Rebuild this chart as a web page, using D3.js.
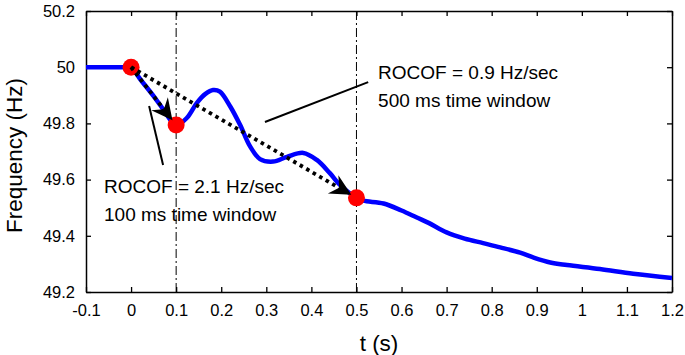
<!DOCTYPE html>
<html>
<head>
<meta charset="utf-8">
<script src="https://cdn.jsdelivr.net/npm/d3@7"></script>
<style>
  body { margin: 0; background: #fff; }
  svg text { font-family: "Liberation Sans", Arial, Helvetica, sans-serif; fill: #000; }
</style>
</head>
<body>
<div id="chart"></div>
<script>
// time (s) and frequency (Hz)
const timeValues = [-0.1, -0.05, -0.01, 0, 0.02, 0.05, 0.071, 0.1, 0.124, 0.146, 0.165, 0.182, 0.197, 0.22, 0.242, 0.264,
    0.286, 0.315, 0.346, 0.382, 0.412, 0.441, 0.464, 0.5, 0.515, 0.56, 0.6, 0.634, 0.66, 0.7, 0.74, 0.781,
    0.819, 0.863, 0.892, 0.93, 0.967, 1.04, 1.114, 1.2];
const freqValues = [50.0, 50.0, 50.0, 50.0, 49.958, 49.897, 49.851, 49.794, 49.82, 49.873, 49.905, 49.919, 49.913, 49.86,
    49.794, 49.718, 49.673, 49.664, 49.681, 49.695, 49.67, 49.623, 49.58, 49.535, 49.525, 49.515, 49.49,
    49.465, 49.446, 49.412, 49.39, 49.374, 49.359, 49.34, 49.323, 49.305, 49.296, 49.282, 49.265, 49.25];

// red markers
const markerTimes = [0, 0.1, 0.5];
const markerFreqs = [50.0, 49.794, 49.535];

// dotted arrows: [t0, f0, t1, f1]
const arrows = [
    [0, 50.0, 0.1, 49.794],
    [0, 50.0, 0.5, 49.535]
];

// vertical dash-dot lines
const windowEdges = [0.1, 0.5];

// solid pointer lines to the labels
const pointerLines = [
    [0.040, 49.862, 0.071, 49.652],
    [0.297, 49.805, 0.526, 49.947]
];

// annotation text: [t, f, text]
const labels = [
    [0.548, 49.958, "ROCOF = 0.9 Hz/sec"],
    [0.548, 49.858, "500 ms time window"],
    [-0.06, 49.552, "ROCOF = 2.1 Hz/sec"],
    [-0.06, 49.452, "100 ms time window"]
];

const xTicks = [-0.1, 0, 0.1, 0.2, 0.3, 0.4, 0.5, 0.6, 0.7, 0.8, 0.9, 1, 1.1, 1.2];
const yTicks = [49.2, 49.4, 49.6, 49.8, 50, 50.2];

const W = 685, H = 355;
const margin = {top: 11, right: 13, bottom: 63, left: 86};
const width = W - margin.left - margin.right;
const height = H - margin.top - margin.bottom;

const svg = d3.select("#chart").append("svg")
    .attr("width", W)
    .attr("height", H);

const g = svg.append("g")
    .attr("transform", `translate(${margin.left},${margin.top})`);

const x = d3.scaleLinear().domain([-0.1, 1.2]).range([0, width]);
const y = d3.scaleLinear().domain([49.2, 50.2]).range([height, 0]);

// axes with inward ticks, plain hyphen for negatives
const fmt = d => String(+d.toFixed(1));
const xAxis = g.append("g")
    .attr("transform", `translate(0,${height})`)
    .call(d3.axisBottom(x).tickValues(xTicks).tickSizeInner(-5).tickSizeOuter(0).tickPadding(12).tickFormat(fmt));
const yAxis = g.append("g")
    .call(d3.axisLeft(y).tickValues(yTicks).tickSizeInner(-5).tickSizeOuter(0).tickPadding(11).tickFormat(fmt));
const xTop = g.append("g")
    .call(d3.axisTop(x).tickValues(xTicks).tickSizeInner(-5).tickSizeOuter(0).tickFormat(""));
const yRight = g.append("g")
    .attr("transform", `translate(${width},0)`)
    .call(d3.axisRight(y).tickValues(yTicks).tickSizeInner(-5).tickSizeOuter(0).tickFormat(""));

[xAxis, yAxis, xTop, yRight].forEach(a => {
    a.select(".domain").attr("stroke", "#000").attr("stroke-width", 1.5);
    a.selectAll(".tick line").attr("stroke", "#000").attr("stroke-width", 1.3);
    a.selectAll(".tick text").attr("font-size", 16.5).attr("font-family", null);
});

// axis titles
svg.append("text")
    .attr("x", margin.left + width / 2)
    .attr("y", 351)
    .attr("text-anchor", "middle")
    .attr("font-size", 22.5)
    .text("t (s)");

svg.append("text")
    .attr("transform", `translate(22,${margin.top + height / 2 + 4}) rotate(-90)`)
    .attr("text-anchor", "middle")
    .attr("font-size", 22.5)
    .text("Frequency (Hz)");

// dash-dot window edges
g.selectAll(".edge").data(windowEdges).enter().append("line")
    .attr("class", "edge")
    .attr("x1", d => x(d)).attr("x2", d => x(d))
    .attr("y1", 0).attr("y2", height)
    .attr("stroke", "#000")
    .attr("stroke-width", 1)
    .attr("stroke-dasharray", "9,3,2,3");

// frequency curve
const line = d3.line()
    .x(d => x(d[0]))
    .y(d => y(d[1]))
    .curve(d3.curveCatmullRom.alpha(0.5));

g.append("path")
    .datum(timeValues.map((t, i) => [t, freqValues[i]]))
    .attr("d", line)
    .attr("fill", "none")
    .attr("stroke", "#0000ff")
    .attr("stroke-width", 4.5)
    .attr("stroke-linejoin", "round");

// red markers
g.selectAll(".dot").data(markerTimes).enter().append("circle")
    .attr("class", "dot")
    .attr("cx", d => x(d))
    .attr("cy", (d, i) => y(markerFreqs[i]))
    .attr("r", 8.5)
    .attr("fill", "#ff0000");

// dotted arrows with concave heads
const headLen = 21, headHalf = 10.5, notch = 7, tipGap = 6;
arrows.forEach(a => {
    const x0 = x(a[0]), y0 = y(a[1]), x1 = x(a[2]), y1 = y(a[3]);
    const len = Math.hypot(x1 - x0, y1 - y0);
    const ux = (x1 - x0) / len, uy = (y1 - y0) / len;
    const tx = x1 - ux * tipGap, ty = y1 - uy * tipGap;
    const bx = tx - ux * headLen, by = ty - uy * headLen;
    const nx = tx - ux * (headLen - notch), ny = ty - uy * (headLen - notch);

    g.append("line")
        .attr("x1", x0).attr("y1", y0)
        .attr("x2", nx).attr("y2", ny)
        .attr("stroke", "#000")
        .attr("stroke-width", 3.8)
        .attr("stroke-dasharray", "3.5,4");

    const pts = [
        [tx, ty],
        [bx - uy * headHalf, by + ux * headHalf],
        [nx, ny],
        [bx + uy * headHalf, by - ux * headHalf]
    ];
    g.append("path")
        .attr("d", "M" + pts.map(p => p.join(",")).join("L") + "Z")
        .attr("fill", "#000");
});

// pointer lines
g.selectAll(".pointer").data(pointerLines).enter().append("line")
    .attr("class", "pointer")
    .attr("x1", d => x(d[0])).attr("y1", d => y(d[1]))
    .attr("x2", d => x(d[2])).attr("y2", d => y(d[3]))
    .attr("stroke", "#000")
    .attr("stroke-width", 2);

// annotation labels
g.selectAll(".label").data(labels).enter().append("text")
    .attr("class", "label")
    .attr("x", d => x(d[0]))
    .attr("y", d => y(d[1]))
    .attr("font-size", 19)
    .text(d => d[2]);
</script>
</body>
</html>
